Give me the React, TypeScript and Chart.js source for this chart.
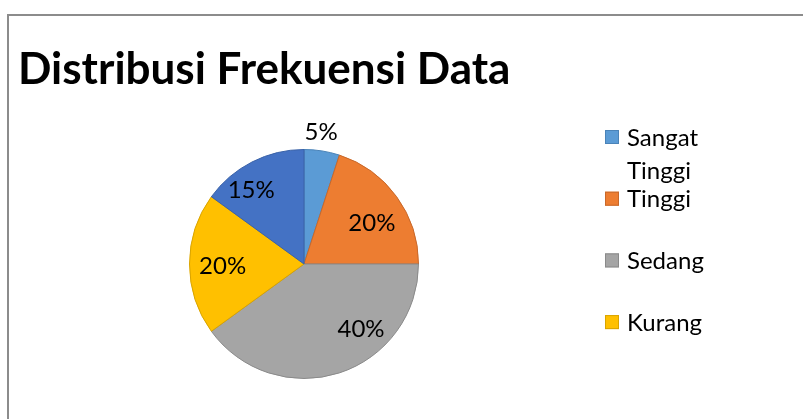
import React, { useEffect, useRef } from "react";
import { Chart, registerables } from "chart.js";

Chart.register(...registerables);

const TITLE = "Distribusi Frekuensi Data";
const categories = ["Sangat Tinggi", "Tinggi", "Sedang", "Kurang", ""];
const values = [5, 20, 40, 20, 15];
const pctLabels = ["5%", "20%", "40%", "20%", "15%"];
const sliceColors = ["#5B9BD5", "#ED7D31", "#A5A5A5", "#FFC000", "#4472C4"];
const sliceBorders = ["#4A83B8", "#C8682A", "#8A8A8A", "#D9A400", "#3A62A8"];
const legendCount = 4;

// label placement styles (radial factor + pixel nudge)
const labelRadius = [1.18, 0.7, 0.65, 0.65, 0.65];
const labelNudge: [number, number][] = [
  [-4, 2],
  [3, 6],
  [34, -6],
  [-7, 2],
  [-19, -7],
];

const W = 803;
const H = 419;

const FONT = "Lato, 'Open Sans', sans-serif";

const overlay = {
  id: "overlay",
  beforeDraw(chart: any) {
    const ctx = chart.ctx;
    ctx.save();
    ctx.fillStyle = "#ffffff";
    ctx.fillRect(0, 0, W, H);
    ctx.strokeStyle = "#8c8c8c";
    ctx.lineWidth = 2;
    ctx.beginPath();
    ctx.moveTo(8, H + 5);
    ctx.lineTo(8, 15);
    ctx.lineTo(W + 5, 15);
    ctx.stroke();
    ctx.restore();
  },
  afterDatasetsDraw(chart: any) {
    const ctx = chart.ctx;
    const meta = chart.getDatasetMeta(0);
    ctx.save();
    ctx.fillStyle = "#000";
    ctx.font = `24px ${FONT}`;
    ctx.textAlign = "center";
    ctx.textBaseline = "middle";
    meta.data.forEach((arc: any, i: number) => {
      const p = arc.getProps(["x", "y", "startAngle", "endAngle", "outerRadius"], true);
      const mid = (p.startAngle + p.endAngle) / 2;
      const r = p.outerRadius * labelRadius[i];
      const x = p.x + Math.cos(mid) * r + labelNudge[i][0];
      const y = p.y + Math.sin(mid) * r + labelNudge[i][1];
      ctx.fillText(pctLabels[i], x, y);
    });
    ctx.restore();
  },
  afterDraw(chart: any) {
    const ctx = chart.ctx;
    ctx.save();
    ctx.fillStyle = "#000";
    ctx.font = `bold 44px ${FONT}`;
    ctx.textAlign = "left";
    ctx.textBaseline = "alphabetic";
    ctx.fillText(TITLE, 18, 84);

    // legend
    ctx.font = `24px ${FONT}`;
    ctx.textBaseline = "middle";
    const labels = chart.data.labels as string[];
    const ds = chart.data.datasets[0];
    for (let i = 0; i < legendCount; i++) {
      const cy = 137 + i * 61.7;
      ctx.fillStyle = ds.backgroundColor[i];
      ctx.fillRect(605, cy - 7, 14, 14);
      ctx.strokeStyle = ds.borderColor[i];
      ctx.lineWidth = 1;
      ctx.strokeRect(605.5, cy - 6.5, 13, 13);
      ctx.fillStyle = "#000";
      const words = labels[i].split(" ");
      const lines: string[] = [];
      let cur = "";
      words.forEach((w) => {
        const t = cur ? cur + " " + w : w;
        if (cur && ctx.measureText(t).width > 110) {
          lines.push(cur);
          cur = w;
        } else cur = t;
      });
      if (cur) lines.push(cur);
      lines.forEach((ln, k) => ctx.fillText(ln, 627, cy + 1 + k * 33));
    }
    ctx.restore();
  },
};

export default function App() {
  const ref = useRef<HTMLCanvasElement>(null);
  useEffect(() => {
    if (!ref.current) return;
    const chart = new Chart(ref.current, {
      type: "pie",
      data: {
        labels: categories,
        datasets: [
          {
            data: values,
            backgroundColor: sliceColors,
            borderColor: sliceBorders,
            borderWidth: 1,
          },
        ],
      },
      options: {
        responsive: false,
        animation: false,
        devicePixelRatio: 1,
        layout: { padding: { left: 189, right: W - 419, top: 149, bottom: H - 379 } },
        plugins: {
          legend: { display: false },
          title: { display: false },
          tooltip: { enabled: false },
        },
      },
      plugins: [overlay],
    });
    return () => chart.destroy();
  }, []);
  return (
    <div style={{ position: "fixed", left: 0, top: 0, width: W, height: H }}>
      <canvas ref={ref} width={W} height={H} style={{ display: "block", width: W, height: H }} />
    </div>
  );
}
